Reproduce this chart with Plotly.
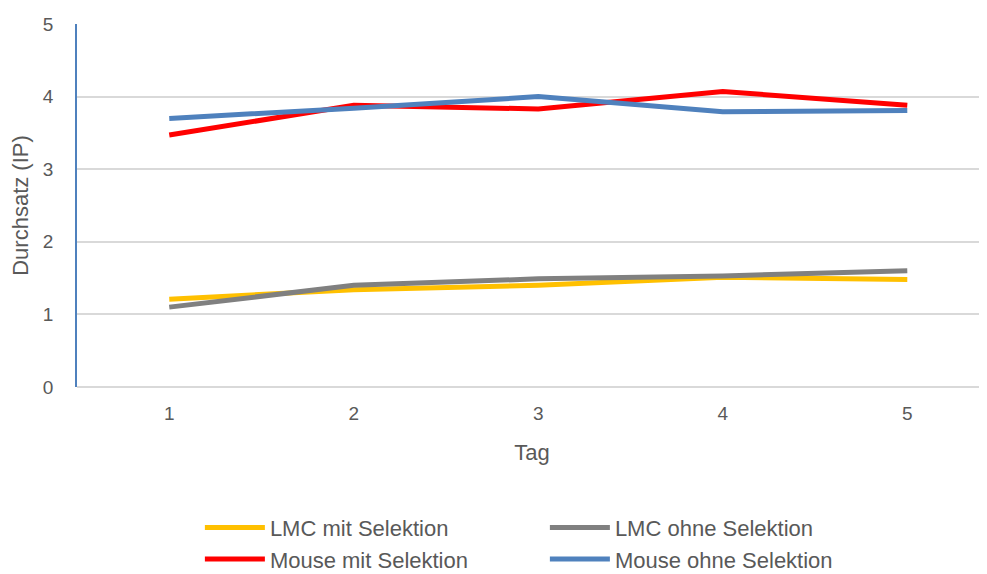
import plotly.graph_objects as go

tage = [1, 2, 3, 4, 5]
lmc_mit = [1.21, 1.34, 1.40, 1.51, 1.48]
lmc_ohne = [1.10, 1.40, 1.49, 1.53, 1.60]
mouse_mit = [3.47, 3.88, 3.83, 4.07, 3.88]
mouse_ohne = [3.70, 3.84, 4.00, 3.79, 3.81]

series = [
    ("LMC mit Selektion", lmc_mit, "#FFC000"),
    ("LMC ohne Selektion", lmc_ohne, "#808080"),
    ("Mouse mit Selektion", mouse_mit, "#FF0000"),
    ("Mouse ohne Selektion", mouse_ohne, "#4F81BD"),
]

fig = go.Figure()
for name, vals, col in series:
    fig.add_trace(go.Scatter(x=tage, y=vals, name=name, mode="lines",
                             line=dict(color=col, width=5)))

font = "Liberation Sans, Arial, sans-serif"
fig.update_layout(
    width=979, height=566,
    margin=dict(l=69, r=0, t=16, b=187, autoexpand=False),
    paper_bgcolor="white", plot_bgcolor="white",
    font=dict(family=font, color="#595959", size=18),
    xaxis=dict(range=[0.5, 5.432], tickvals=tage, ticktext=[str(t) for t in tage],
               showgrid=False, zeroline=False, showline=False, automargin=False,
               ticks="", ticklen=0, ticklabelstandoff=13,
               tickfont=dict(size=19, color="#595959"),
               title=dict(text="Tag", font=dict(size=22, color="#595959"), standoff=21)),
    yaxis=dict(range=[0, 5], tickvals=[0, 1, 2, 3, 4, 5], showgrid=True, automargin=False,
               gridcolor="#D9D9D9", gridwidth=1.5, zeroline=True, zerolinecolor="#D9D9D9",
               zerolinewidth=1.5, showline=True, linecolor="#4F81BD", linewidth=1.5,
               ticks="", ticklabelstandoff=18, tickfont=dict(size=19, color="#595959"),
               title=dict(text="Durchsatz (IP)", font=dict(size=22, color="#595959"), standoff=10)),
    legend=dict(orientation="h", xref="container", yref="container",
                x=0.196, xanchor="left", y=0.119, yanchor="top",
                entrywidth=270, entrywidthmode="pixels",
                font=dict(size=22, color="#595959"), tracegroupgap=0, itemwidth=60),
    showlegend=True,
)

fig.write_html("out.html")
